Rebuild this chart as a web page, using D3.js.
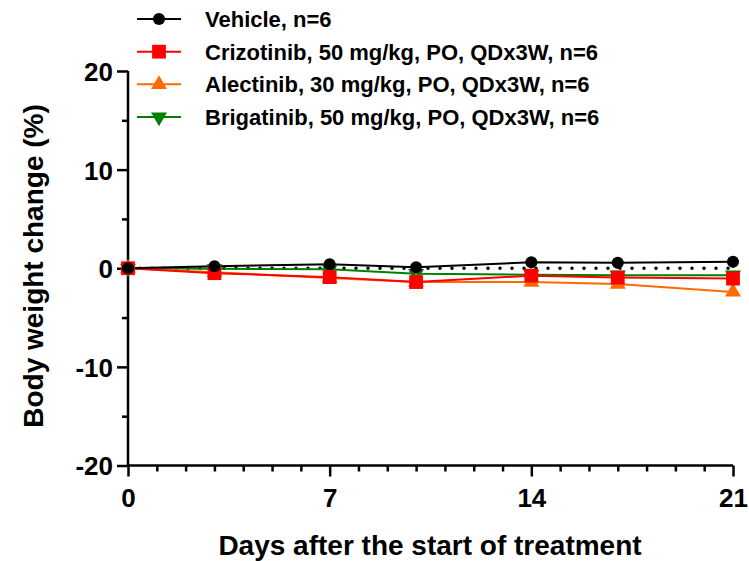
<!DOCTYPE html>
<html>
<head>
<meta charset="utf-8">
<script src="https://cdn.jsdelivr.net/npm/d3@7"></script>
<style>
  body { margin: 0; background: #fff; }
  text { font-family: "Liberation Sans", Arial, sans-serif; font-weight: bold; }
</style>
</head>
<body>
<div id="chart"></div>
<script>
(function(){
  "use strict";

  // data
  var days = [0, 3, 7, 10, 14, 17, 21];
  var vehicle    = [0, 0.2, 0.4, 0.1, 0.6, 0.55, 0.65];
  var crizotinib = [0, -0.5, -0.9, -1.4, -0.75, -0.95, -1.05];
  var alectinib  = [0, -0.4, -1.0, -1.4, -1.4, -1.6, -2.4];
  var brigatinib = [0, -0.05, -0.1, -0.55, -0.65, -0.7, -0.7];
  var seriesNames = ["Vehicle, n=6", "Crizotinib, 50 mg/kg, PO, QDx3W, n=6",
                     "Alectinib, 30 mg/kg, PO, QDx3W, n=6", "Brigatinib, 50 mg/kg, PO, QDx3W, n=6"];
  var yMajor = [-20, -10, 0, 10, 20];
  var yMinor = [-15, -5, 5, 15];
  var xMajor = [0, 7, 14, 21];
  var xMinor = d3.range(0, 22).filter(function(d){ return xMajor.indexOf(d) < 0; });

  var width = 749, height = 561;
  var svg = d3.select("#chart").append("svg")
      .attr("width", width).attr("height", height);

  var x = d3.scaleLinear().domain([0, 21]).range([128, 733]);
  var y = d3.scaleLinear().domain([-20, 20]).range([465.5, 71]);

  var series = [
    { name: seriesNames[0], values: vehicle,    color: "#000000", shape: d3.symbolCircle,   size: 115 },
    { name: seriesNames[1], values: crizotinib, color: "#ff0000", shape: d3.symbolSquare,   size: 190 },
    { name: seriesNames[2], values: alectinib,  color: "#ff6a00", shape: d3.symbolTriangle, size: 110 },
    { name: seriesNames[3], values: brigatinib, color: "#008000", shape: d3.symbolTriangle, size: 110, down: true }
  ];

  // plain hyphen for negatives, like the original
  var fmt = function(d){ return String(d); };

  // axes
  var yAxis = svg.append("g").attr("transform", "translate(" + x(0) + ",0)");
  yAxis.call(d3.axisLeft(y).tickValues(yMajor).tickSize(11).tickPadding(4).tickFormat(fmt));
  var yAxisMinor = svg.append("g").attr("transform", "translate(" + x(0) + ",0)");
  yAxisMinor.call(d3.axisLeft(y).tickValues(yMinor).tickSize(6).tickFormat(""));
  yAxisMinor.select(".domain").remove();

  var xAxis = svg.append("g").attr("transform", "translate(0," + y(-20) + ")");
  xAxis.call(d3.axisBottom(x).tickValues(xMajor).tickSize(11).tickPadding(12).tickFormat(fmt));
  var xAxisMinor = svg.append("g").attr("transform", "translate(0," + y(-20) + ")");
  xAxisMinor.call(d3.axisBottom(x).tickValues(xMinor).tickSize(6).tickFormat(""));
  xAxisMinor.select(".domain").remove();

  [yAxis, yAxisMinor, xAxis, xAxisMinor].forEach(function(g){
    g.selectAll(".domain").attr("stroke", "#000").attr("stroke-width", 2.5);
    g.selectAll(".tick line").attr("stroke", "#000").attr("stroke-width", 2.5);
    g.selectAll(".tick text").attr("fill", "#000").style("font-size", "26px")
      .style("font-family", "'Liberation Sans', Arial, sans-serif").style("font-weight", "bold");
  });
  // outer ticks off
  yAxis.select(".domain").attr("d", "M0," + y(20) + "V" + y(-20));
  xAxis.select(".domain").attr("d", "M" + x(0) + ",0H" + x(21));
  yAxis.selectAll(".tick text").attr("dy", "0.36em");

  // axis titles
  svg.append("text")
      .attr("x", 430).attr("y", 555)
      .attr("text-anchor", "middle")
      .style("font-size", "28px")
      .text("Days after the start of treatment");
  svg.append("text")
      .attr("transform", "translate(43,266) rotate(-90)")
      .attr("text-anchor", "middle")
      .style("font-size", "28px")
      .text("Body weight change (%)");

  // dotted reference line at zero
  svg.append("line")
      .attr("x1", x(0)).attr("x2", x(21))
      .attr("y1", y(0)).attr("y2", y(0))
      .attr("stroke", "#000").attr("stroke-width", 3.5)
      .attr("stroke-linecap", "round")
      .attr("stroke-dasharray", "0,12");

  var line = d3.line()
      .x(function(d, i){ return x(days[i]); })
      .y(function(d){ return y(d); });

  // draw back to front: brigatinib, alectinib, crizotinib, vehicle
  var order = [3, 2, 1, 0];
  order.forEach(function(k){
    var s = series[k];
    svg.append("path")
        .attr("d", line(s.values))
        .attr("fill", "none")
        .attr("stroke", s.color)
        .attr("stroke-width", 2);
  });
  order.forEach(function(k){
    var s = series[k];
    svg.append("g").selectAll("path")
        .data(s.values)
        .enter().append("path")
        .attr("d", d3.symbol().type(s.shape).size(s.size))
        .attr("transform", function(d, i){
          return "translate(" + x(days[i]) + "," + y(d) + ")" + (s.down ? " rotate(180)" : "");
        })
        .attr("fill", s.color);
  });

  // legend
  var legend = svg.append("g");
  var rowY = d3.scaleLinear().domain([0, 3]).range([19, 117]);
  series.forEach(function(s, i){
    var g = legend.append("g").attr("transform", "translate(0," + rowY(i) + ")");
    g.append("line").attr("x1", 137).attr("x2", 181)
        .attr("stroke", s.color).attr("stroke-width", 2);
    g.append("path")
        .attr("d", d3.symbol().type(s.shape).size(s.size))
        .attr("transform", "translate(159,0)" + (s.down ? " rotate(180)" : ""))
        .attr("fill", s.color);
    g.append("text").attr("x", 205).attr("y", 8)
        .style("font-size", "22px")
        .text(s.name);
  });
})();
</script>
</body>
</html>
